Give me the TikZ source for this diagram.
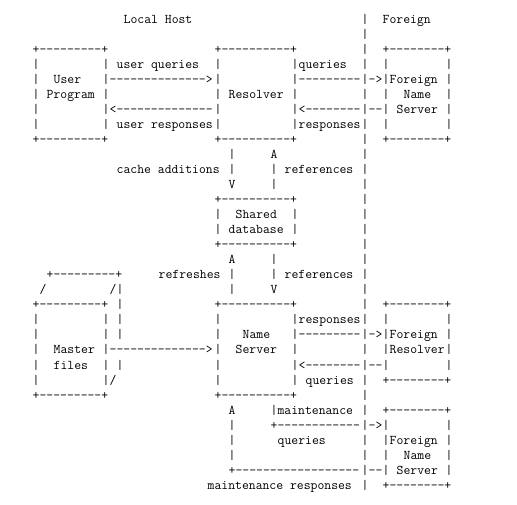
\documentclass[tikz,border=0pt]{standalone}
\usepackage{tikz}

% box of + - | characters: name, left col, right col, top row, bottom row, edge
\newcommand{\asciibox}[6]{%
  \node[asc] (#1-top) at (#2,#4) {#6};
  \node[asc] (#1-bot) at (#2,#5) {#6};
  \pgfmathtruncatemacro{\rfirst}{#4+1}
  \pgfmathtruncatemacro{\rlast}{#5-1}
  \foreach \r in {\rfirst,...,\rlast} {
    \node[asc] (#1-l\r) at (#2,\r) {|};
    \node[asc] (#1-r\r) at (#3,\r) {|};
  }
}

\begin{document}
\begin{tikzpicture}[x=7pt, y=-15pt,
  asc/.style={font=\ttfamily\fontsize{13.33}{15}\selectfont, inner sep=0pt, anchor=base west}]
  \useasboundingbox (-4.5pt,24pt) rectangle (512.5pt,-481pt);

  % titles
  \node[asc] (local) at (17,0) {Local Host};
  \node[asc] (foreign) at (54,0) {Foreign};

  % host boundary
  \foreach \r in {0,...,31}
    \node[asc] (sep\r) at (51,\r) {|};

  % boxes
  \asciibox{user}{4}{14}{2}{8}{+---------+}
  \asciibox{resolver}{30}{41}{2}{8}{+----------+}
  \asciibox{fns}{54}{63}{2}{8}{+--------+}
  \asciibox{shared}{30}{41}{12}{15}{+----------+}
  \asciibox{master}{4}{14}{19}{25}{+---------+}
  \asciibox{ns}{30}{41}{19}{25}{+----------+}
  \asciibox{fres}{54}{63}{19}{24}{+--------+}
  \asciibox{fns2}{54}{63}{26}{31}{+--------+}

  % back of master files
  \node[asc] (master-back) at (6,17) {+---------+};
  \node[asc] (master-s1) at (5,18) {/};
  \node[asc] (master-s2) at (15,18) {/|};
  \foreach \r in {19,20,21,23}
    \node[asc] (master-d\r) at (16,\r) {|};
  \node[asc] (master-s3) at (15,24) {/};

  % box texts
  \node[asc] (user-t1) at (7,4) {User};
  \node[asc] (user-t2) at (6,5) {Program};
  \node[asc] (resolver-t) at (32,5) {Resolver};
  \node[asc] (fns-t1) at (55,4) {Foreign};
  \node[asc] (fns-t2) at (57,5) {Name};
  \node[asc] (fns-t3) at (56,6) {Server};
  \node[asc] (shared-t1) at (33,13) {Shared};
  \node[asc] (shared-t2) at (32,14) {database};
  \node[asc] (master-t1) at (7,22) {Master};
  \node[asc] (master-t2) at (7,23) {files};
  \node[asc] (ns-t1) at (34,21) {Name};
  \node[asc] (ns-t2) at (33,22) {Server};
  \node[asc] (fres-t1) at (55,21) {Foreign};
  \node[asc] (fres-t2) at (55,22) {Resolver};
  \node[asc] (fns2-t1) at (55,28) {Foreign};
  \node[asc] (fns2-t2) at (57,29) {Name};
  \node[asc] (fns2-t3) at (56,30) {Server};

  % user <-> resolver
  \node[asc] (uq-lbl) at (16,3) {user queries};
  \node[asc] (uq) at (15,4) {-------------->};
  \node[asc] (ur) at (15,6) {<--------------};
  \node[asc] (ur-lbl) at (16,7) {user responses};

  % resolver <-> foreign name server
  \node[asc] (rq-lbl) at (42,3) {queries};
  \node[asc] (rq) at (42,4) {---------};
  \node[asc] (rq-tip) at (52,4) {->};
  \node[asc] (rr) at (42,6) {<--------};
  \node[asc] (rr-tail) at (52,6) {--};
  \node[asc] (rr-lbl) at (42,7) {responses};

  % resolver <-> shared database
  \node[asc] (ca1) at (32,9) {|};
  \node[asc] (ca2) at (32,10) {|};
  \node[asc] (ca3) at (32,11) {V};
  \node[asc] (ca-lbl) at (16,10) {cache additions};
  \node[asc] (rf1) at (38,9) {A};
  \node[asc] (rf2) at (38,10) {|};
  \node[asc] (rf3) at (38,11) {|};
  \node[asc] (rf-lbl) at (40,10) {references};

  % shared database <-> name server
  \node[asc] (rs1) at (32,16) {A};
  \node[asc] (rs2) at (32,17) {|};
  \node[asc] (rs3) at (32,18) {|};
  \node[asc] (rs-lbl) at (22,17) {refreshes};
  \node[asc] (nf1) at (38,16) {|};
  \node[asc] (nf2) at (38,17) {|};
  \node[asc] (nf3) at (38,18) {V};
  \node[asc] (nf-lbl) at (40,17) {references};

  % master files -> name server
  \node[asc] (mf) at (15,22) {-------------->};

  % name server <-> foreign resolver
  \node[asc] (nr-lbl) at (42,20) {responses};
  \node[asc] (nr) at (42,21) {---------};
  \node[asc] (nr-tip) at (52,21) {->};
  \node[asc] (nq) at (42,23) {<--------};
  \node[asc] (nq-tail) at (52,23) {--};
  \node[asc] (nq-lbl) at (43,24) {queries};

  % maintenance loop
  \node[asc] (mt1) at (32,26) {A};
  \node[asc] (mq-lbl1) at (38,26) {|maintenance};
  \node[asc] (mt2) at (32,27) {|};
  \node[asc] (mq) at (38,27) {+------------};
  \node[asc] (mq-tip) at (52,27) {->};
  \node[asc] (mt3) at (32,28) {|};
  \node[asc] (mq-lbl2) at (39,28) {queries};
  \node[asc] (mt4) at (32,29) {|};
  \node[asc] (mr) at (32,30) {+------------------};
  \node[asc] (mr-tail) at (52,30) {--};
  \node[asc] (mr-lbl) at (29,31) {maintenance responses};
\end{tikzpicture}
\end{document}
